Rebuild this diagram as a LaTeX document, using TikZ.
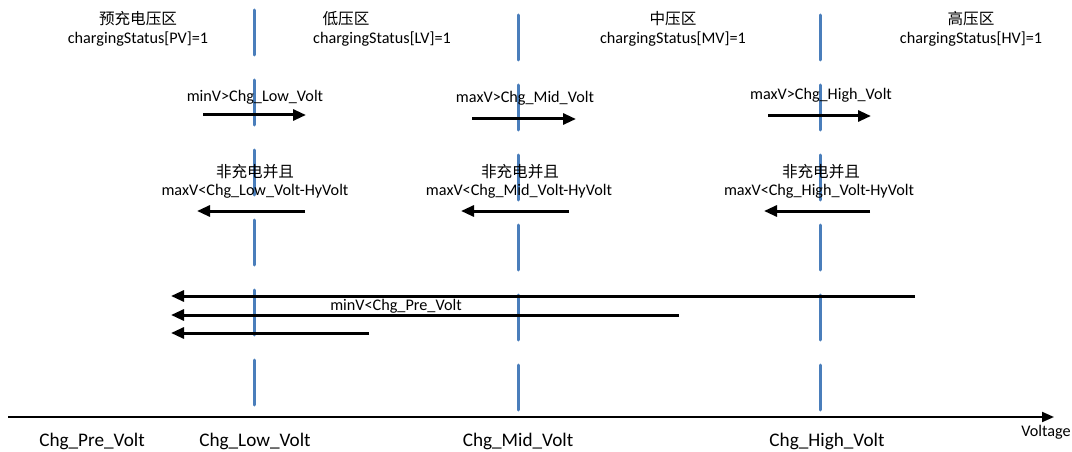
\documentclass[tikz,border=0pt]{standalone}
\usepackage{fontspec}
\setmainfont{Carlito}
\newfontfamily\cjk{Noto Sans CJK SC}
\usetikzlibrary{arrows.meta}
\definecolor{zoneblue}{HTML}{4A7EBB}
\tikzset{
  zoneline/.style={draw=zoneblue,line width=3pt,line cap=round,dash pattern=on 45pt off 25pt},
  trans/.style={draw=black,line width=3pt,-{Triangle[length=13pt,width=11pt]}},
  axisline/.style={draw=black,line width=2pt,-{Triangle[length=12pt,width=10pt]}},
  cn/.style={inner sep=0pt,font=\cjk\fontsize{15.6}{17}\selectfont},
  lt/.style={inner sep=0pt,font=\fontsize{16.2}{18}\selectfont},
  bt/.style={inner sep=0pt,font=\fontsize{19.2}{21}\selectfont},
}
\begin{document}
\begin{tikzpicture}[x=1pt,y=-1pt]
\useasboundingbox (0,0) rectangle (1072,452);
% zone boundaries
\coordinate (l1t) at (254.5,10); \coordinate (l1b) at (254.5,408);
\coordinate (l2t) at (518,15); \coordinate (l2b) at (518,412);
\coordinate (l3t) at (820,15); \coordinate (l3b) at (820,412);
\draw[zoneline] (l1t) -- (l1b);
\draw[zoneline] (l2t) -- (l2b);
\draw[zoneline] (l3t) -- (l3b);
% zone titles
\node[cn] (z1) at (138,19) {预充电压区};
\node[lt] (s1) at (138,39) {chargingStatus[PV]=1};
\node[cn] (z2) at (346,19) {低压区};
\node[lt] (s2) at (382,39) {chargingStatus[LV]=1};
\node[cn] (z3) at (673,19) {中压区};
\node[lt] (s3) at (673,39) {chargingStatus[MV]=1};
\node[cn] (z4) at (971,19) {高压区};
\node[lt] (s4) at (971,39) {chargingStatus[HV]=1};
% upward transitions
\node[lt] (u1) at (255,97) {minV>Chg\_Low\_Volt};
\node[lt] (u2) at (525,98) {maxV>Chg\_Mid\_Volt};
\node[lt] (u3) at (821,95) {maxV>Chg\_High\_Volt};
\coordinate (u1a) at (203,115); \coordinate (u1b) at (306,115);
\coordinate (u2a) at (472,119); \coordinate (u2b) at (576,119);
\coordinate (u3a) at (768,116); \coordinate (u3b) at (871,116);
\draw[trans] (u1a) -- (u1b);
\draw[trans] (u2a) -- (u2b);
\draw[trans] (u3a) -- (u3b);
% downward transitions
\node[cn] (d1c) at (255,172) {非充电并且};
\node[lt] (d1) at (255,191) {maxV<Chg\_Low\_Volt-HyVolt};
\node[cn] (d2c) at (520,172) {非充电并且};
\node[lt] (d2) at (519,191) {maxV<Chg\_Mid\_Volt-HyVolt};
\node[cn] (d3c) at (821,172) {非充电并且};
\node[lt] (d3) at (819,191) {maxV<Chg\_High\_Volt-HyVolt};
\coordinate (d1a) at (305,211); \coordinate (d1b) at (197,211);
\coordinate (d2a) at (569,211); \coordinate (d2b) at (461,211);
\coordinate (d3a) at (870,211); \coordinate (d3b) at (764,211);
\draw[trans] (d1a) -- (d1b);
\draw[trans] (d2a) -- (d2b);
\draw[trans] (d3a) -- (d3b);
% return to pre-charge
\node[lt] (pre) at (396,306) {minV<Chg\_Pre\_Volt};
\coordinate (p1a) at (915,296); \coordinate (p1b) at (171,296);
\coordinate (p2a) at (679,315); \coordinate (p2b) at (171,315);
\coordinate (p3a) at (369,333); \coordinate (p3b) at (171,333);
\draw[trans] (p1a) -- (p1b);
\draw[trans] (p2a) -- (p2b);
\draw[trans] (p3a) -- (p3b);
% voltage axis
\coordinate (ax0) at (8,417); \coordinate (ax1) at (1054,417);
\draw[axisline] (ax0) -- (ax1);
\node[lt] (vlt) at (1046,432) {Voltage};
\node[bt] (b0) at (92,441) {Chg\_Pre\_Volt};
\node[bt] (b1) at (255,441) {Chg\_Low\_Volt};
\node[bt] (b2) at (518,441) {Chg\_Mid\_Volt};
\node[bt] (b3) at (827,441) {Chg\_High\_Volt};
\end{tikzpicture}
\end{document}
